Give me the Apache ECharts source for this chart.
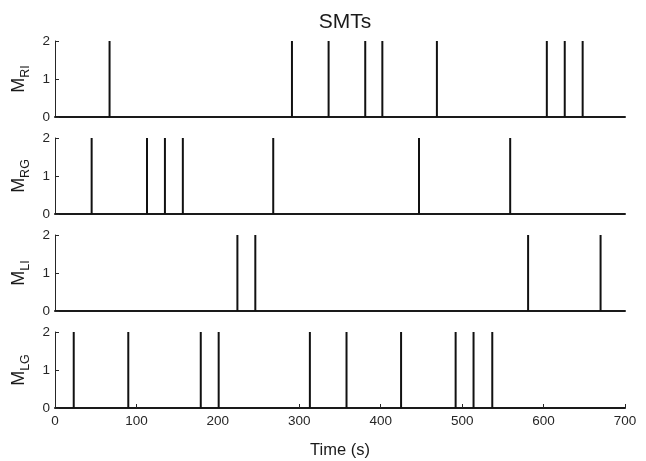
<!DOCTYPE html>
<html><head><meta charset="utf-8">
<script src="https://cdn.jsdelivr.net/npm/echarts@6/dist/echarts.min.js"></script>
<style>html,body{margin:0;padding:0;background:#fff}#c{width:646px;height:461px}</style>
</head><body><div id="c"></div>
<script>
const title = 'SMTs';
const xTitle = 'Time (s)';
const panelNames = ['RI', 'RG', 'LI', 'LG'];
const spikeHeight = 2;
const timesRI = [67, 291, 336, 381, 402, 469, 604, 626, 648];
const timesRG = [45, 113, 135, 157, 268, 447, 559];
const timesLI = [224, 246, 581, 670];
const timesLG = [23, 90, 179, 201, 313, 358, 425, 492, 514, 537];
const allTimes = [timesRI, timesRG, timesLI, timesLG];
const xMin = 0, xMax = 700, xStep = 100;
const yMin = 0, yMax = 2, yStep = 1;

const FONT = 'Liberation Sans, Arial, sans-serif';
const tops = [41, 138, 235, 332];
const h = 76;
const grids = [], xAxes = [], yAxes = [], series = [];
allTimes.forEach((times, i) => {
  const last = i === allTimes.length - 1;
  grids.push({left: 55, right: 21, top: tops[i], height: h});
  xAxes.push({
    type: 'value', gridIndex: i, min: xMin, max: xMax, interval: xStep,
    axisLine: {show: true, lineStyle: {color: '#1a1a1a', width: 2}},
    axisTick: {show: last, inside: true, length: 4, lineStyle: {color: '#262626', width: 1}},
    axisLabel: {show: last, color: '#262626', fontSize: 13.5, fontFamily: FONT, margin: 6},
    splitLine: {show: false},
    name: last ? xTitle : '', nameLocation: 'middle', nameGap: 34,
    nameTextStyle: {color: '#1a1a1a', fontSize: 16.5, fontFamily: FONT}
  });
  yAxes.push({
    type: 'value', gridIndex: i, min: yMin, max: yMax, interval: yStep,
    axisLine: {show: true, lineStyle: {color: '#262626', width: 1}},
    axisTick: {show: true, inside: true, length: 4, lineStyle: {color: '#262626'}},
    axisLabel: {color: '#262626', fontSize: 13.5, fontFamily: FONT, margin: 5},
    splitLine: {show: false},
    name: '{m|M}{s|' + panelNames[i] + '}', nameLocation: 'middle', nameRotate: 90, nameGap: 12,
    nameTextStyle: {
      rich: {
        m: {fontSize: 18, fontFamily: FONT, color: '#1a1a1a', lineHeight: 22, verticalAlign: 'top'},
        s: {fontSize: 12.5, fontFamily: FONT, color: '#1a1a1a', lineHeight: 22, padding: [10, 0, 0, 0], verticalAlign: 'bottom'}
      }
    }
  });
  series.push({
    type: 'bar', xAxisIndex: i, yAxisIndex: i, barWidth: 2, silent: true,
    itemStyle: {color: '#111'},
    data: times.map(t => [t, spikeHeight])
  });
});
const chart = echarts.init(document.getElementById('c'), null, {renderer: 'canvas'});
chart.setOption({
  animation: false,
  backgroundColor: '#fff',
  title: {text: title, left: 340, textAlign: 'center', top: 7, textStyle: {fontSize: 21, fontWeight: 'normal', color: '#1a1a1a', fontFamily: FONT}},
  grid: grids, xAxis: xAxes, yAxis: yAxes, series: series
});
</script></body></html>
